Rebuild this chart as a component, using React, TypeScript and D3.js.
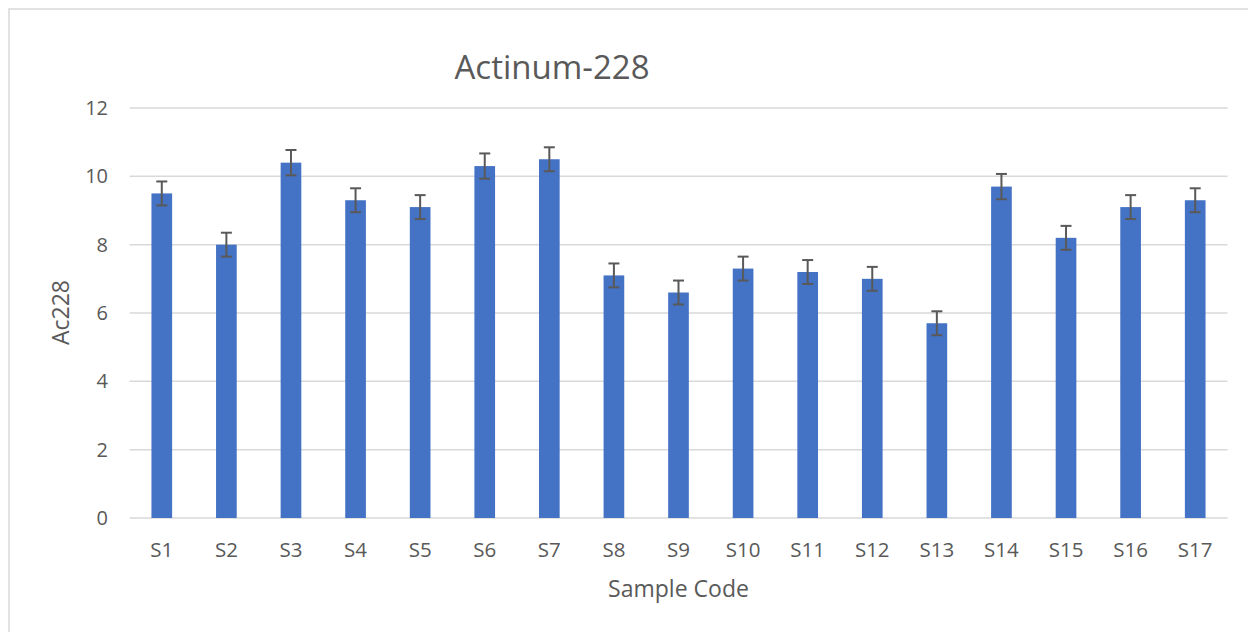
import React from "react";
import * as d3 from "d3";

const categories = ["S1","S2","S3","S4","S5","S6","S7","S8","S9","S10","S11","S12","S13","S14","S15","S16","S17"];
const values = [9.5, 8.0, 10.4, 9.3, 9.1, 10.3, 10.5, 7.1, 6.6, 7.3, 7.2, 7.0, 5.7, 9.7, 8.2, 9.1, 9.3];
const errors = [0.35, 0.35, 0.37, 0.35, 0.35, 0.37, 0.35, 0.35, 0.35, 0.35, 0.35, 0.35, 0.35, 0.37, 0.35, 0.35, 0.35];
const yTicks = [0, 2, 4, 6, 8, 10, 12];
const title = "Actinum-228";
const xTitle = "Sample Code";
const yTitle = "Ac228";

const W = 1248;
const H = 632;
const FONT = "'Open Sans', 'Noto Sans', sans-serif";
const TEXT = "#595959";

export default function App() {
  const x = d3.scaleBand<string>().domain(categories).range([129.5, 1227.5]).paddingInner(0.68).paddingOuter(0.34);
  const y = d3.scaleLinear().domain([0, 12]).range([518, 108]);
  const bw = x.bandwidth();
  return (
    <svg width={W} height={H} style={{ position: "absolute", left: 0, top: 0, background: "#fff" }} fontFamily={FONT}>
      <rect x={9} y={9} width={W + 20} height={H + 20} fill="#fff" stroke="#d9d9d9" strokeWidth={1.5} />
      {yTicks.map((t) => (
        <g key={t}>
          <line x1={129.5} x2={1227.5} y1={y(t)} y2={y(t)} stroke="#d9d9d9" strokeWidth={1.5} />
          <text x={108} y={y(t)} dy="0.35em" textAnchor="end" fontSize={20} fill={TEXT}>{t}</text>
        </g>
      ))}
      {categories.map((c, i) => {
        const cx = (x(c) as number) + bw / 2;
        const v = values[i];
        const e = errors[i];
        return (
          <g key={c}>
            <rect x={x(c)} y={y(v)} width={bw} height={y(0) - y(v)} fill="#4472C4" />
            <line x1={cx} x2={cx} y1={y(v + e)} y2={y(v - e)} stroke="#595959" strokeWidth={2} />
            <line x1={cx - 5.5} x2={cx + 5.5} y1={y(v + e)} y2={y(v + e)} stroke="#595959" strokeWidth={2} />
            <line x1={cx - 5.5} x2={cx + 5.5} y1={y(v - e)} y2={y(v - e)} stroke="#595959" strokeWidth={2} />
            <text x={cx} y={557} textAnchor="middle" fontSize={20.5} fill={TEXT}>{c}</text>
          </g>
        );
      })}
      <text x={552} y={79} textAnchor="middle" fontSize={33} fill={TEXT}>{title}</text>
      <text x={678.5} y={597} textAnchor="middle" fontSize={23} fill={TEXT}>{xTitle}</text>
      <text transform="translate(69,312.5) rotate(-90)" textAnchor="middle" fontSize={23} fill={TEXT}>{yTitle}</text>
    </svg>
  );
}
